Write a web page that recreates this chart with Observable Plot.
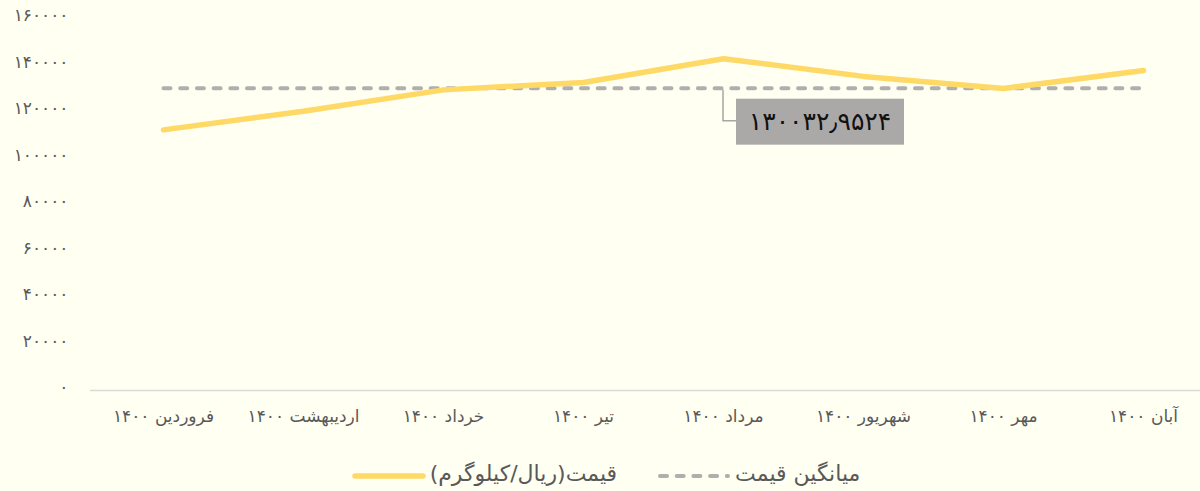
<!DOCTYPE html>
<html>
<head>
<meta charset="utf-8">
<script src="https://cdn.jsdelivr.net/npm/d3@7"></script>
<script src="https://cdn.jsdelivr.net/npm/@observablehq/plot@0.6"></script>
<style>
  html, body { margin: 0; padding: 0; background: #FFFFF2; }
  body { width: 1200px; height: 491px; overflow: hidden; font-family: "DejaVu Sans", sans-serif; }
  #chart svg { display: block; }
  #legend { display: flex; justify-content: center; align-items: center; height: 41px; padding-top: 6px; color: #595959; font-size: 22px; direction: ltr; padding-left: 12px; box-sizing: border-box; }
  #legend .item { display: flex; align-items: center; margin: 0 20px; }
  #legend .item span { direction: rtl; }
</style>
</head>
<body>
<div id="chart"></div>
<div id="legend"></div>
<script>
const categories = ["فروردین ۱۴۰۰", "اردیبهشت ۱۴۰۰", "خرداد ۱۴۰۰", "تیر ۱۴۰۰", "مرداد ۱۴۰۰", "شهریور ۱۴۰۰", "مهر ۱۴۰۰", "آبان ۱۴۰۰"];
const prices = [112100, 120100, 129300, 132500, 142700, 135100, 129900, 137600];
const averagePrice = [130032.9524];
const averageLabel = ["۱۳۰۰۳۲٫۹۵۲۴"];
const averageAt = ["مرداد ۱۴۰۰"];
const yTicks = [0, 20000, 40000, 60000, 80000, 100000, 120000, 140000, 160000];
const yTickLabels = ["۰", "۲۰۰۰۰", "۴۰۰۰۰", "۶۰۰۰۰", "۸۰۰۰۰", "۱۰۰۰۰۰", "۱۲۰۰۰۰", "۱۴۰۰۰۰", "۱۶۰۰۰۰"];
const seriesNames = ["قیمت(ریال/کیلوگرم)", "میانگین قیمت"];

const priceData = categories.map((c, i) => ({cat: c, value: prices[i]}));
const avgData = categories.map(c => ({cat: c, value: averagePrice[0]}));

const lineColor = "#FFD966";
const avgColor = "#B0AFAE";

const chart = Plot.plot({
  width: 1200,
  height: 450,
  marginLeft: 90,
  marginRight: 0,
  marginTop: 18,
  marginBottom: 60,
  style: {background: "#FFFFF2", fontFamily: "DejaVu Sans, sans-serif"},
  x: {type: "point", domain: categories, range: [160.5, 1145], padding: 0, label: null},
  y: {domain: [0, 160000], label: null},
  marks: [
    Plot.ruleY([0], {stroke: "#D9D9D9", strokeWidth: 1.5}),
    Plot.axisY(yTicks, {tickSize: 0, tickPadding: 22, label: null, tickFormat: (d) => yTickLabels[yTicks.indexOf(d)], fill: "#595959", fontSize: 17, dy: -2.5}),
    Plot.axisX({tickSize: 0, tickPadding: 19, label: null, fill: "#595959", fontSize: 17}),
    Plot.line(avgData, {x: "cat", y: "value", stroke: avgColor, strokeWidth: 4, strokeDasharray: "7,9.7", strokeLinecap: "round"}),
    Plot.line(priceData, {x: "cat", y: "value", stroke: lineColor, strokeWidth: 5.5, strokeLinecap: "round", strokeLinejoin: "round"})
  ]
});
document.getElementById("chart").appendChild(chart);

// Annotation box for the average value, positioned through Plot's scales
const sx = chart.scale("x"), sy = chart.scale("y");
const ax = sx.apply(averageAt[0]);
const ay = sy.apply(averagePrice[0]);
const svg = d3.select(chart);
const g = svg.append("g");
g.append("path")
  .attr("d", `M${ax},${ay + 2} V${ay + 33} H${ax + 13}`)
  .attr("fill", "none").attr("stroke", "#A6A6A6").attr("stroke-width", 1.5);
g.append("rect")
  .attr("x", ax + 13).attr("y", ay + 11).attr("width", 168).attr("height", 46)
  .attr("fill", "#ABA9A8");
g.append("text")
  .attr("x", ax + 13 + 84).attr("y", ay + 34)
  .attr("text-anchor", "middle").attr("dominant-baseline", "central")
  .attr("font-size", 25).attr("fill", "#111")
  .attr("font-family", "DejaVu Sans, sans-serif")
  .text(averageLabel[0]);

// Legend below the chart
const legend = d3.select("#legend");
const it1 = legend.append("div").attr("class", "item");
const s1 = it1.append("svg").attr("width", 74).attr("height", 12);
s1.append("line").attr("x1", 3).attr("x2", 71).attr("y1", 8).attr("y2", 8)
  .attr("stroke", lineColor).attr("stroke-width", 5.5).attr("stroke-linecap", "round");
it1.append("span").style("margin-left", "4px").text(seriesNames[0]);
const it2 = legend.append("div").attr("class", "item");
const s2 = it2.append("svg").attr("width", 74).attr("height", 12);
s2.append("line").attr("x1", 3).attr("x2", 71).attr("y1", 8).attr("y2", 8)
  .attr("stroke", avgColor).attr("stroke-width", 4).attr("stroke-dasharray", "7,9.7").attr("stroke-linecap", "round");
it2.append("span").style("margin-left", "4px").text(seriesNames[1]);
</script>
</body>
</html>
